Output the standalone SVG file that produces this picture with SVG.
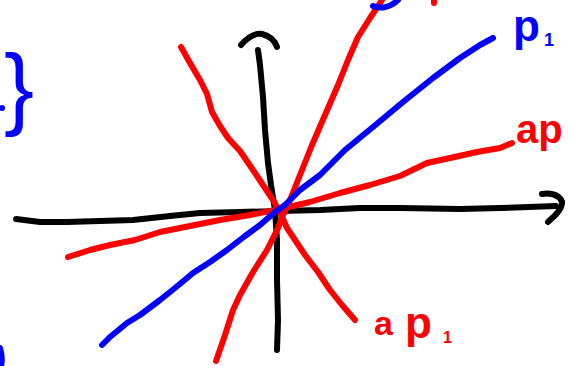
<svg xmlns="http://www.w3.org/2000/svg" width="569" height="366" viewBox="0 0 569 366">
<style>
.s{fill:none;stroke-width:6;stroke-linecap:round;stroke-linejoin:round}
.k{stroke:#000}
.r{stroke:#ff0000}
.b{stroke:#0000ff}
.t{font-family:"Liberation Sans",Arial,sans-serif;font-weight:bold}
.tr{fill:#ff0000}
.tb{fill:#0000ff}
</style>
<rect width="569" height="366" fill="#ffffff"/>
<g id="axes">
<path class="s k" d="M16,219 L40,222 L67,222 L100,221 L133,220 L170,216 L200,213 L240,212 L280,211 L320,210 L360,208 L400,208 L460,209 L500,208 L556,206"/>
<path class="s k" d="M542,194 C556,192 565,199 561,207 C558,214 552,218 548,222"/>
<path class="s k" d="M258,50 L260,65 L263,97 L265,130 L268,163 L271,185 L275,210 L277,240 L277,280 L278,320 L277,350"/>
<path class="s k" d="M241,45 C248,37 255,33 262,34 C270,36 275,41 277,47"/>
</g>
<g id="lines">
<path class="s r" d="M181,47 L190,63 L200,80 L207,94 L212,112 L220,126 L228,138 L240,151 L253,170 L263,185 L273,200 L280,212 L287,228 L295,240 L305,255 L318,272 L330,290 L342,305 L355,320"/>
<path class="s r" d="M382,0 L370,18 L358,37 L348,60 L338,85 L325,115 L312,145 L300,175 L290,200 L283,215 L278,228 L267,250 L253,272 L240,295 L233,310 L225,335 L216,361"/>
<path class="s r" d="M68,257 L90,250 L110,245 L135,240 L160,232 L190,226 L220,220 L250,215 L280,209 L310,202 L340,193 L370,185 L400,176 L427,163 L450,158 L477,152 L500,148 L512,143"/>
<path class="s b" d="M102,345 L110,337 L127,323 L140,315 L160,300 L175,288 L193,273 L210,262 L227,250 L245,236 L260,225 L275,212 L285,205 L300,190 L320,175 L345,150 L373,127 L403,102 L433,78 L460,58 L480,45 L493,38"/>
</g>
<g id="fragments">
<path class="s b" d="M373,6 C380,9 390,8 398,0"/>
<path class="s r" d="M434,0 L434,3"/>
<circle cx="2" cy="108" r="3" fill="#0000ff"/>
<path class="s b" d="M0,348 C2,355 2,362 1,366"/>
</g>
<g id="labels">
<text class="tb" x="4" y="118" font-family="Liberation Sans, Arial, sans-serif" font-size="90">}</text>
<text class="t tb" x="513" y="41" font-size="44">p<tspan x="544" y="46" font-size="18">1</tspan></text>
<text class="t tr" x="516" y="143" font-size="40">ap</text>
<text class="t tr" x="374" y="335" font-size="34">a<tspan x="405" y="338" font-size="44">p</tspan><tspan x="443" y="343" font-size="16">1</tspan></text>
</g>
</svg>
